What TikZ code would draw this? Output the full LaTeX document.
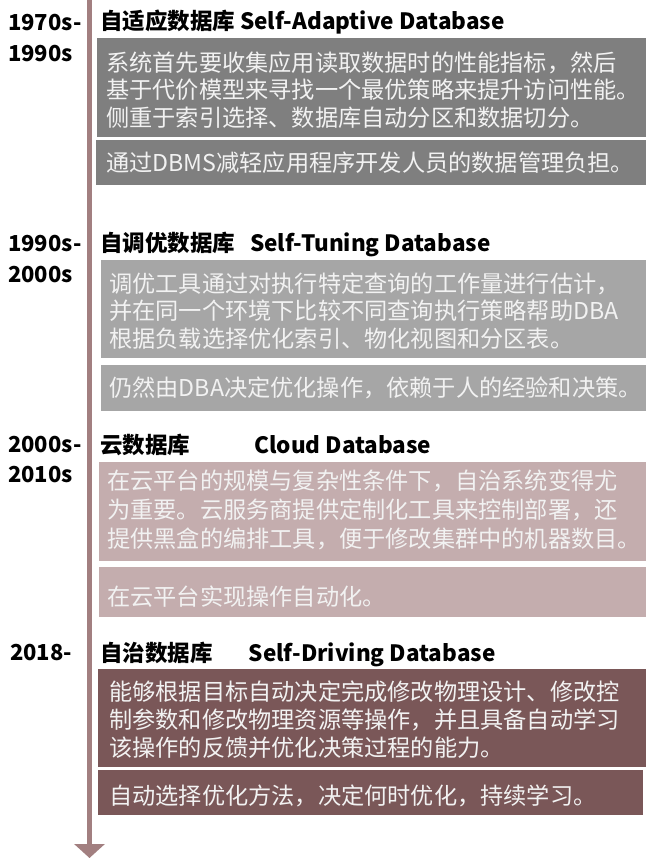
\documentclass[tikz,border=0pt]{standalone}
\usepackage{fontspec}
\setmainfont{Noto Sans CJK SC}
\usetikzlibrary{arrows.meta}
\definecolor{linec}{HTML}{A27F80}
\definecolor{cA}{HTML}{7F7F7F}
\definecolor{cB}{HTML}{A6A6A6}
\definecolor{cC}{HTML}{C4ADAE}
\definecolor{cD}{HTML}{7A5758}
\definecolor{bodyc}{HTML}{F2F2F2}
\begin{document}
\begin{tikzpicture}[x=1pt,y=1pt,
  panel/.style={fill=#1, draw=none, anchor=north west, inner sep=0pt},
  yearlabel/.style={anchor=west, inner sep=0pt, font=\fontsize{22}{24}\selectfont\bfseries, text=black},
  titlelabel/.style={anchor=west, inner sep=0pt, font=\fontsize{22.5}{24}\selectfont\bfseries, text=black},
  bodytext/.style={anchor=west, inner sep=0pt, align=left, text=bodyc, font=\fontsize{23.2}{27.5}\selectfont},
  timeline/.style={draw=linec, line width=4.5pt, -{Triangle[width=30pt,length=14pt]}}
]
\useasboundingbox (0,0) rectangle (646,-859);

% timeline
\coordinate (top) at (89.5,0);
\coordinate (bot) at (89.5,-858);
\draw[timeline] (top) -- (bot);

% ---- section 1
\node[yearlabel] (y1a) at (8,-23) {1970s-};
\node[yearlabel] (y1b) at (8,-54) {1990s};
\node[titlelabel] (h1) at (100,-22) {自适应数据库\hspace{5pt}Self-Adaptive Database};
\node[panel=cA, minimum width=549pt, minimum height=99pt] (b1) at (97,-38) {};
\node[bodytext] (t1) at (106,-90) {系统首先要收集应用读取数据时的性能指标，然后\\基于代价模型来寻找一个最优策略来提升访问性能。\\侧重于索引选择、数据库自动分区和数据切分。};
\node[panel=cA, minimum width=550pt, minimum height=45pt] (b1b) at (96,-140) {};
\node[bodytext] (t1b) at (106,-163) {通过DBMS减轻应用程序开发人员的数据管理负担。};

% ---- section 2
\node[yearlabel] (y2a) at (8,-244) {1990s-};
\node[yearlabel] (y2b) at (8,-275) {2000s};
\node[titlelabel] (h2) at (100,-244) {自调优数据库\hspace{15pt}Self-Tuning Database};
\node[panel=cB, minimum width=545pt, minimum height=98pt] (b2) at (101,-260) {};
\node[bodytext] (t2) at (109,-311) {调优工具通过对执行特定查询的工作量进行估计，\\并在同一个环境下比较不同查询执行策略帮助DBA\\根据负载选择优化索引、物化视图和分区表。};
\node[panel=cB, minimum width=545pt, minimum height=46pt] (b2b) at (101,-365) {};
\node[bodytext] (t2b) at (109,-388) {仍然由DBA决定优化操作，依赖于人的经验和决策。};

% ---- section 3
\node[yearlabel] (y3a) at (8,-445) {2000s-};
\node[yearlabel] (y3b) at (8,-475) {2010s};
\node[titlelabel] (h3) at (100,-445) {云数据库\hspace{64pt}Cloud Database};
\node[panel=cC, minimum width=547pt, minimum height=99pt] (b3) at (99,-462) {};
\node[bodytext, font=\fontsize{23.2}{29}\selectfont] (t3) at (107,-510) {在云平台的规模与复杂性条件下，自治系统变得尤\\为重要。云服务商提供定制化工具来控制部署，还\\提供黑盒的编排工具，便于修改集群中的机器数目。};
\node[panel=cC, minimum width=547pt, minimum height=50pt] (b3b) at (99,-567) {};
\node[bodytext] (t3b) at (107,-597) {在云平台实现操作自动化。};

% ---- section 4
\node[yearlabel] (y4a) at (10,-653) {2018-};
\node[titlelabel] (h4) at (100,-654) {自治数据库\hspace{36pt}Self-Driving Database};
\node[panel=cD, minimum width=548pt, minimum height=98pt] (b4) at (98,-669) {};
\node[bodytext, font=\fontsize{23.2}{28}\selectfont] (t4) at (109,-720) {能够根据目标自动决定完成修改物理设计、修改控\\制参数和修改物理资源等操作，并且具备自动学习\\该操作的反馈并优化决策过程的能力。};
\node[panel=cD, minimum width=545pt, minimum height=45pt] (b4b) at (98,-770) {};
\node[bodytext] (t4b) at (109,-796) {自动选择优化方法，决定何时优化，持续学习。};
\end{tikzpicture}
\end{document}
